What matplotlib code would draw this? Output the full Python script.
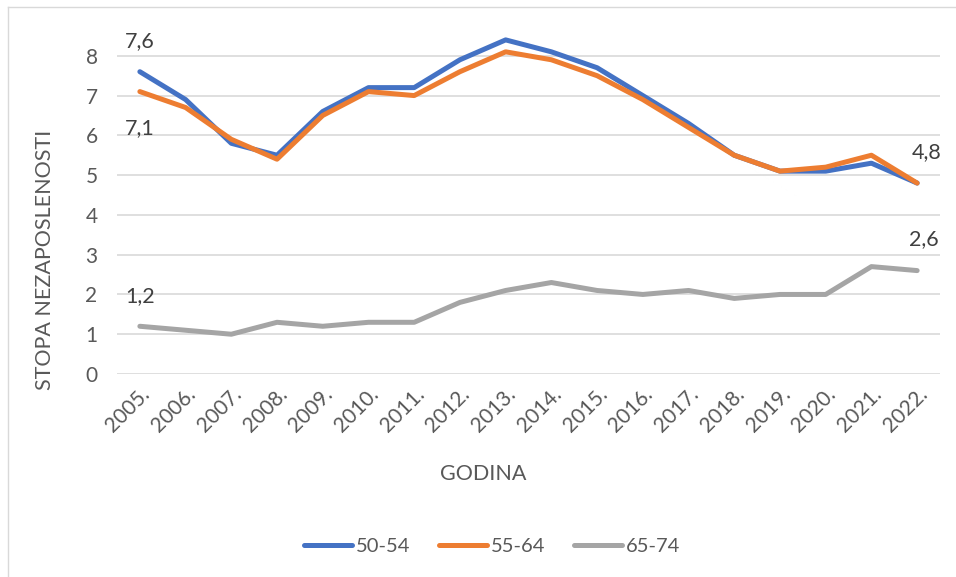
import matplotlib
matplotlib.use("Agg")
import matplotlib.pyplot as plt
from matplotlib.lines import Line2D

years = ["2005.", "2006.", "2007.", "2008.", "2009.", "2010.", "2011.", "2012.", "2013.",
         "2014.", "2015.", "2016.", "2017.", "2018.", "2019.", "2020.", "2021.", "2022."]
s_50_54 = [7.6, 6.9, 5.8, 5.5, 6.6, 7.2, 7.2, 7.9, 8.4, 8.1, 7.7, 7.0, 6.3, 5.5, 5.1, 5.1, 5.3, 4.8]
s_55_64 = [7.1, 6.7, 5.9, 5.4, 6.5, 7.1, 7.0, 7.6, 8.1, 7.9, 7.5, 6.9, 6.2, 5.5, 5.1, 5.2, 5.5, 4.8]
s_65_74 = [1.2, 1.1, 1.0, 1.3, 1.2, 1.3, 1.3, 1.8, 2.1, 2.3, 2.1, 2.0, 2.1, 1.9, 2.0, 2.0, 2.7, 2.6]
series_names = ["50-54", "55-64", "65-74"]
colors = ["#4472C4", "#ED7D31", "#A5A5A5"]
yticks = [0, 1, 2, 3, 4, 5, 6, 7, 8]

plt.rcParams['font.family'] = ['Lato', 'DejaVu Sans']
txt = "#595959"

W, H = 956, 577
fig = plt.figure(figsize=(W / 100, H / 100), dpi=100)
ax = fig.add_axes([117 / W, 1 - 374 / H, (940 - 117) / W, (374 - 20) / H])

x = list(range(len(years)))
for vals, c in zip([s_50_54, s_55_64, s_65_74], colors):
    ax.plot(x, vals, color=c, lw=3.6, solid_capstyle='round', solid_joinstyle='round', zorder=3)

ax.set_xlim(-0.5, len(years) - 0.5)
ax.set_ylim(0, 8.9)
ax.set_yticks(yticks)
ax.set_xticks(x)
ax.set_xticklabels(years, rotation=45, ha='right', rotation_mode='anchor')
ax.tick_params(axis='both', length=0, labelsize=15, colors=txt)
ax.tick_params(axis='y', pad=14)
ax.tick_params(axis='x', pad=7)
ax.grid(axis='y', color='#D9D9D9', lw=1.2)
ax.set_axisbelow(True)
for sp in ax.spines.values():
    sp.set_visible(False)

# data labels
lab_kw = dict(textcoords='offset points', ha='center', va='center', fontsize=15.5, color='#404040')
ax.annotate("7,6", (0, s_50_54[0]), xytext=(0, 22), **lab_kw)
ax.annotate("7,1", (0, s_55_64[0]), xytext=(0, -26), **lab_kw)
ax.annotate("1,2", (0, s_65_74[0]), xytext=(0, 22), **lab_kw)
ax.annotate("4,8", (17, s_55_64[-1]), xytext=(7, 22), **lab_kw)
ax.annotate("2,6", (17, s_65_74[-1]), xytext=(5, 23), **lab_kw)

fig.text(45 / W, 1 - 260 / H, "STOPA NEZAPOSLENOSTI", rotation=90, ha='center', va='center',
         fontsize=15.5, color=txt)
fig.text(483 / W, 1 - 474 / H, "GODINA", ha='center', va='center', fontsize=15.5, color=txt)

handles = [Line2D([0], [0], color=c, lw=3.6, solid_capstyle='round') for c in colors]
leg = fig.legend(handles, series_names, loc='center', bbox_to_anchor=(492 / W, 1 - 546 / H),
                 ncol=3, frameon=False, fontsize=14.5, handlelength=2.4, handletextpad=0.2,
                 columnspacing=1.4)
for t in leg.get_texts():
    t.set_color(txt)

# chart frame (left and top edges)
fig.add_artist(Line2D([8 / W, 8 / W], [0, 1 - 7 / H], color='#D9D9D9', lw=1))
fig.add_artist(Line2D([8 / W, 1], [1 - 7 / H, 1 - 7 / H], color='#D9D9D9', lw=1))

fig.savefig("out.png", dpi=100)
